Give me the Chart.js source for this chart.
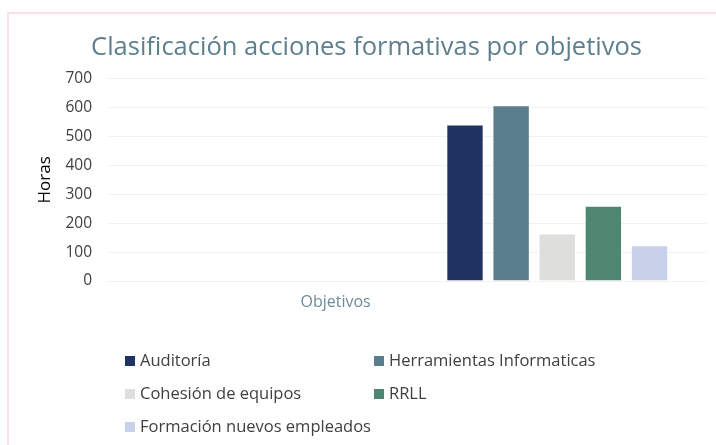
<!DOCTYPE html>
<html>
<head>
<meta charset="utf-8">
<script src="https://cdn.jsdelivr.net/npm/chart.js@4/dist/chart.umd.min.js"></script>
<style>
  html, body { margin: 0; padding: 0; background: #fff; overflow: hidden; }
  #wrap { position: relative; width: 716px; height: 445px; }
  #frame { position: absolute; left: 7px; top: 12px; width: 760px; height: 480px; border: 2px solid #fde0e3; }
  #chart_clasificacion { position: absolute; left: 0; top: 0; }
</style>
</head>
<body>
<div id="wrap">
  <div id="frame"></div>
  <canvas id="chart_clasificacion" width="716" height="445"></canvas>
</div>
<script>
// two category slots, the first one is empty in the original sheet
var categories = ['', ''];
var seriesNames = ['Auditoría', 'Herramientas Informaticas', 'Cohesión de equipos', 'RRLL', 'Formación nuevos empleados'];
var seriesValues = [541, 608, 164, 260, 124];
var seriesColors = ['#1f3362', '#5a7e8b', '#dededc', '#4e8672', '#c8d1e9'];
var yTicks = [0, 100, 200, 300, 400, 500, 600, 700];

var FONT = "'Open Sans', sans-serif";

var datasets = seriesNames.map(function (name, i) {
    return {
        label: name,
        data: [null, seriesValues[i]],
        backgroundColor: seriesColors[i],
        borderColor: 'rgba(255,255,255,0.35)',
        borderWidth: 1,
        categoryPercentage: 0.77,
        barPercentage: 0.81
    };
});

var chart_clasificacion = new Chart(document.getElementById('chart_clasificacion'), {
    type: 'bar',
    data: {
        labels: categories,
        datasets: datasets
    },
    options: {
        animation: false,
        responsive: false,
        layout: {
            padding: { left: 26, right: 9, top: 0, bottom: 156 }
        },
        plugins: {
            legend: { display: false },
            tooltip: { enabled: false },
            title: {
                display: true,
                text: 'Clasificación acciones formativas por objetivos',
                color: '#5d7f8e',
                font: { family: FONT, size: 25.5, weight: 'normal' },
                padding: { top: 32, bottom: 16 }
            }
        },
        scales: {
            x: {
                grid: { display: false },
                border: { display: false },
                ticks: { display: false }
            },
            y: {
                min: 0,
                max: 700,
                afterBuildTicks: function (scale) {
                    scale.ticks = yTicks.map(function (v) { return { value: v }; });
                },
                afterFit: function (scale) {
                    scale.width = 82;
                },
                grid: { color: '#f1f1f1', drawTicks: false },
                border: { display: false },
                ticks: {
                    padding: 16,
                    color: '#404040',
                    font: { family: FONT, size: 15.5 }
                },
                title: {
                    display: true,
                    text: 'Horas',
                    color: '#000',
                    font: { family: FONT, size: 17 },
                    padding: { top: 9, bottom: 0 }
                }
            }
        }
    },
    plugins: [{
        id: 'axisTitleAndLegend',
        afterDraw: function (chart) {
            var ctx = chart.ctx;
            var area = chart.chartArea;
            ctx.save();
            // x axis title sits left of centre, as in the sheet
            ctx.fillStyle = '#6d8b9b';
            ctx.font = '16px ' + FONT;
            ctx.textAlign = 'center';
            ctx.textBaseline = 'middle';
            ctx.fillText('Objetivos', area.left + (area.right - area.left) * 0.38, area.bottom + 21);

            // legend in two columns
            ctx.textAlign = 'left';
            ctx.font = '16.5px ' + FONT;
            chart.data.datasets.forEach(function (ds, i) {
                var col = i % 2;
                var row = Math.floor(i / 2);
                var x = area.left + 17 + col * 249;
                var y = area.bottom + 80 + row * 33;
                ctx.fillStyle = ds.backgroundColor;
                ctx.fillRect(x, y - 5, 10, 10);
                ctx.fillStyle = '#404040';
                ctx.fillText(ds.label, x + 15, y);
            });
            ctx.restore();
        }
    }]
});
</script>
</body>
</html>
